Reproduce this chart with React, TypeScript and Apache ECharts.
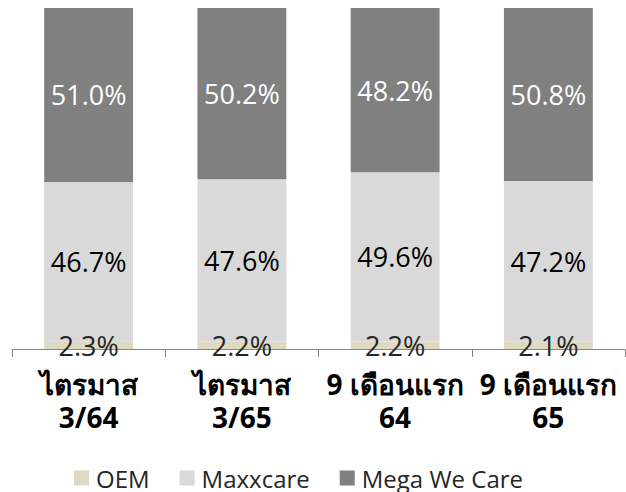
import React, { useEffect, useRef } from "react";
import * as echarts from "echarts";

const categories = ["ไตรมาส\n3/64", "ไตรมาส\n3/65", "9 เดือนแรก\n64", "9 เดือนแรก\n65"];
const oem = [2.3, 2.2, 2.2, 2.1];
const maxxcare = [46.7, 47.6, 49.6, 47.2];
const megaWeCare = [51.0, 50.2, 48.2, 50.8];
const seriesNames = ["OEM", "Maxxcare", "Mega We Care"];
const colors = ["#DDD9C3", "#D9D9D9", "#808080"];
const labelColors = ["#262626", "#000000", "#FFFFFF"];

const FONT = "'Open Sans', 'Noto Sans', sans-serif";

export default function App() {
  const ref = useRef<HTMLDivElement>(null);
  useEffect(() => {
    if (!ref.current) return;
    const chart = echarts.init(ref.current, null, { renderer: "svg" });
    const values = [oem, maxxcare, megaWeCare];
    chart.setOption({
      animation: false,
      textStyle: { fontFamily: FONT },
      grid: { left: 12, right: 1, top: 8, bottom: 143, containLabel: false },
      legend: {
        data: seriesNames,
        left: 74,
        top: 466,
        padding: 0,
        itemWidth: 15,
        itemHeight: 15,
        itemGap: 30,
        icon: "rect",
        textStyle: { fontSize: 24, lineHeight: 24, color: "#262626", fontFamily: FONT, padding: [0, 0, 0, 2] },
      },
      xAxis: {
        type: "category",
        data: categories,
        axisLine: { lineStyle: { color: "#868686", width: 1 } },
        axisTick: { show: true, length: 8, lineStyle: { color: "#868686" } },
        axisLabel: {
          fontSize: 28,
          fontWeight: "bold",
          color: "#000",
          lineHeight: 33,
          margin: 18,
          fontFamily: FONT,
          interval: 0,
        },
      },
      yAxis: {
        type: "value",
        min: 0,
        max: 100,
        show: false,
        splitLine: { show: false },
      },
      series: seriesNames.map((name, i) => ({
        name,
        type: "bar",
        stack: "total",
        barWidth: "58%",
        data: values[i],
        itemStyle: { color: colors[i] },
        label: {
          show: true,
          position: "inside",
          formatter: (p: any) => p.value.toFixed(1) + "%",
          fontSize: 27,
          color: labelColors[i],
          fontFamily: FONT,
        },
      })),
    });
    return () => chart.dispose();
  }, []);
  return (
    <div
      ref={ref}
      style={{ position: "fixed", left: 0, top: 0, width: 626, height: 492, background: "#fff" }}
    />
  );
}
